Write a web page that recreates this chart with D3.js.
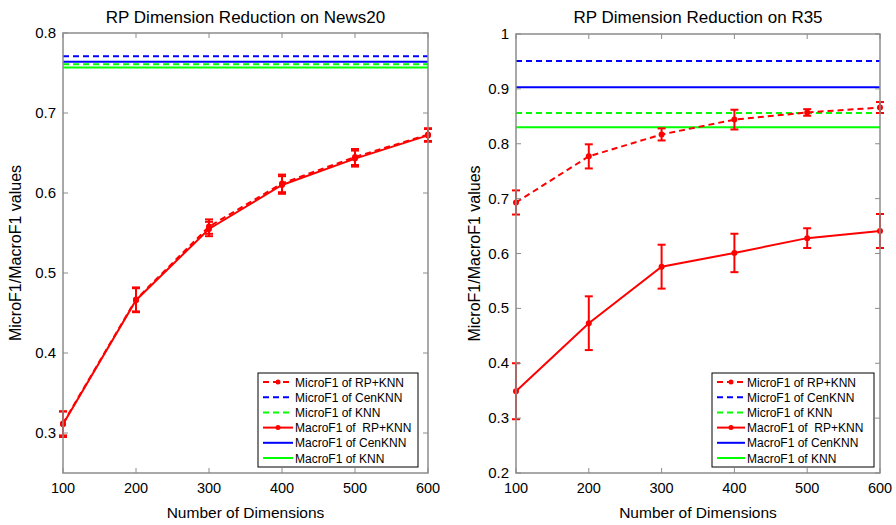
<!DOCTYPE html>
<html>
<head>
<meta charset="utf-8">
<script src="https://cdn.jsdelivr.net/npm/d3@7"></script>
<style>
  body { margin: 0; background: #fff; }
  text { font-family: "Liberation Sans", Arial, sans-serif; fill: #000; }
</style>
</head>
<body>
<svg id="chart" width="896" height="525"></svg>
<script>
// x values shared by both panels
const dims = [100, 200, 300, 400, 500, 600];

// News20 panel
const newsMicroRP    = [0.312, 0.467, 0.558, 0.612, 0.645, 0.673];
const newsMicroRPErr = [0.015, 0.015, 0.009, 0.011, 0.010, 0.008];
const newsMacroRP    = [0.311, 0.466, 0.555, 0.610, 0.643, 0.672];
const newsMacroRPErr = [0.016, 0.015, 0.009, 0.011, 0.010, 0.008];
const newsBase = [0.771, 0.761, 0.764, 0.757]; // microCen, microKNN, macroCen, macroKNN

// R35 panel
const r35MicroRP    = [0.693, 0.777, 0.817, 0.844, 0.857, 0.866];
const r35MicroRPErr = [0.022, 0.022, 0.011, 0.018, 0.006, 0.010];
const r35MacroRP    = [0.349, 0.473, 0.576, 0.601, 0.628, 0.641];
const r35MacroRPErr = [0.051, 0.049, 0.040, 0.035, 0.018, 0.031];
const r35Base = [0.951, 0.856, 0.903, 0.830];

const newsYTicks = [0.3, 0.4, 0.5, 0.6, 0.7, 0.8];
const r35YTicks = [0.2, 0.3, 0.4, 0.5, 0.6, 0.7, 0.8, 0.9, 1];

const legendLabels = ["MicroF1 of RP+KNN", "MicroF1 of CenKNN", "MicroF1 of KNN",
                      "MacroF1 of  RP+KNN", "MacroF1 of CenKNN", "MacroF1 of KNN"];

const RED = "#ff0000", BLUE = "#0000ff", GREEN = "#00ff00", AXIS = "#8c8c8c";
const DASH = "6,4";

const svg = d3.select("#chart");

function drawPanel(p) {
  const x = d3.scaleLinear().domain([100, 600]).range([p.left, p.right]);
  const y = d3.scaleLinear().domain(p.yDomain).range([p.bottom, p.top]);
  const g = svg.append("g");

  // title
  g.append("text")
   .attr("x", (p.left + p.right) / 2)
   .attr("y", 23)
   .attr("text-anchor", "middle")
   .style("font-size", "17px")
   .text(p.title);

  // baselines: micro dashed, macro solid
  const base = [
    {v: p.base[0], c: BLUE, d: DASH},
    {v: p.base[1], c: GREEN, d: DASH},
    {v: p.base[2], c: BLUE, d: null},
    {v: p.base[3], c: GREEN, d: null}
  ];
  base.forEach((b) => {
    g.append("line")
     .attr("x1", x(100)).attr("x2", x(600))
     .attr("y1", y(b.v)).attr("y2", y(b.v))
     .attr("stroke", b.c)
     .attr("stroke-width", 2)
     .attr("stroke-dasharray", b.d);
  });

  // RP+KNN series with error bars
  const series = [
    {vals: p.micro, err: p.microErr, dash: DASH},
    {vals: p.macro, err: p.macroErr, dash: null}
  ];
  const line = d3.line().x((d) => x(d[0])).y((d) => y(d[1]));
  series.forEach((s) => {
    const pts = dims.map((d, i) => [d, s.vals[i], s.err[i]]);
    g.append("path")
     .datum(pts)
     .attr("d", line)
     .attr("fill", "none")
     .attr("stroke", RED)
     .attr("stroke-width", 2)
     .attr("stroke-dasharray", s.dash);
    const eb = g.selectAll(null).data(pts).enter().append("g");
    eb.append("line")
      .attr("x1", (d) => x(d[0])).attr("x2", (d) => x(d[0]))
      .attr("y1", (d) => y(d[1] - d[2])).attr("y2", (d) => y(d[1] + d[2]))
      .attr("stroke", RED).attr("stroke-width", 2);
    [-1, 1].forEach((sgn) => {
      eb.append("line")
        .attr("x1", (d) => x(d[0]) - 4).attr("x2", (d) => x(d[0]) + 4)
        .attr("y1", (d) => y(d[1] + sgn * d[2])).attr("y2", (d) => y(d[1] + sgn * d[2]))
        .attr("stroke", RED).attr("stroke-width", 2);
    });
    eb.append("circle")
      .attr("cx", (d) => x(d[0])).attr("cy", (d) => y(d[1]))
      .attr("r", 3).attr("fill", RED);
  });

  // axes box, ticks inward on all sides (matlab style)
  const ax = g.append("g");
  ax.append("rect")
    .attr("x", p.left).attr("y", p.top)
    .attr("width", p.right - p.left).attr("height", p.bottom - p.top)
    .attr("fill", "none").attr("stroke", AXIS).attr("stroke-width", 1.5);
  dims.forEach((d) => {
    ax.append("line").attr("x1", x(d)).attr("x2", x(d)).attr("y1", p.bottom).attr("y2", p.bottom - 5)
      .attr("stroke", AXIS);
    ax.append("line").attr("x1", x(d)).attr("x2", x(d)).attr("y1", p.top).attr("y2", p.top + 5)
      .attr("stroke", AXIS);
    ax.append("text").attr("x", x(d)).attr("y", p.bottom + 20)
      .attr("text-anchor", "middle").style("font-size", "14.5px").text(d);
  });
  p.yTicks.forEach((t) => {
    ax.append("line").attr("x1", p.left).attr("x2", p.left + 5).attr("y1", y(t)).attr("y2", y(t))
      .attr("stroke", AXIS);
    ax.append("line").attr("x1", p.right).attr("x2", p.right - 5).attr("y1", y(t)).attr("y2", y(t))
      .attr("stroke", AXIS);
    ax.append("text").attr("x", p.left - 7).attr("y", y(t) + 5)
      .attr("text-anchor", "end").style("font-size", "15px").text(d3.format("~g")(t));
  });

  // axis labels
  g.append("text")
   .attr("x", (p.left + p.right) / 2).attr("y", 518)
   .attr("text-anchor", "middle").style("font-size", "15.5px")
   .text("Number of Dimensions");
  g.append("text")
   .attr("transform", "translate(" + p.yLabelX + "," + (p.top + p.bottom) / 2 + ") rotate(-90)")
   .attr("text-anchor", "middle").style("font-size", "16px")
   .text("MicroF1/MacroF1 values");

  // legend
  const lg = g.append("g").attr("transform", "translate(" + p.legX + ",373)");
  lg.append("rect").attr("width", p.legW).attr("height", 94)
    .attr("fill", "#fff").attr("stroke", "#000").attr("stroke-width", 1);
  const legStyle = [
    {c: RED, d: DASH, m: true}, {c: BLUE, d: DASH}, {c: GREEN, d: DASH},
    {c: RED, d: null, m: true}, {c: BLUE, d: null}, {c: GREEN, d: null}
  ];
  legendLabels.forEach((lab, i) => {
    const yy = 9 + i * 15.2;
    lg.append("line").attr("x1", 5).attr("x2", p.legLine).attr("y1", yy).attr("y2", yy)
      .attr("stroke", legStyle[i].c).attr("stroke-width", 2).attr("stroke-dasharray", legStyle[i].d);
    if (legStyle[i].m) {
      lg.append("circle").attr("cx", (5 + p.legLine) / 2).attr("cy", yy).attr("r", 2.5).attr("fill", RED);
    }
    lg.append("text").attr("x", p.legLine + 2).attr("y", yy + 4.5)
      .attr("xml:space", "preserve").style("white-space", "pre")
      .style("font-size", "12px").text(lab);
  });
}

drawPanel({
  title: "RP Dimension Reduction on News20",
  left: 63, right: 428, top: 33, bottom: 473,
  yDomain: [0.25, 0.8], yTicks: newsYTicks,
  micro: newsMicroRP, microErr: newsMicroRPErr,
  macro: newsMacroRP, macroErr: newsMacroRPErr,
  base: newsBase, yLabelX: 21,
  legX: 258, legW: 160, legLine: 35
});

drawPanel({
  title: "RP Dimension Reduction on R35",
  left: 516, right: 880, top: 34, bottom: 473,
  yDomain: [0.2, 1], yTicks: r35YTicks,
  micro: r35MicroRP, microErr: r35MicroRPErr,
  macro: r35MacroRP, macroErr: r35MacroRPErr,
  base: r35Base, yLabelX: 480,
  legX: 712, legW: 162, legLine: 33
});
</script>
</body>
</html>
